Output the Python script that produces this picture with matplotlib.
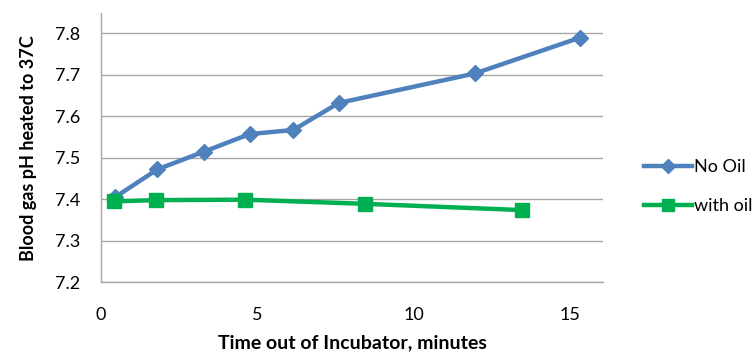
import matplotlib
matplotlib.use("Agg")
import matplotlib.pyplot as plt

plt.rcParams['font.family'] = ['Lato', 'DejaVu Sans']

# Blood gas pH over time out of the incubator
no_oil_time = [0.45, 1.8, 3.3, 4.75, 6.15, 7.6, 11.95, 15.3]
no_oil_ph = [7.405, 7.472, 7.515, 7.557, 7.567, 7.632, 7.703, 7.789]

with_oil_time = [0.42, 1.77, 4.6, 8.45, 13.45]
with_oil_ph = [7.395, 7.398, 7.399, 7.389, 7.374]

x_ticks = [0, 5, 10, 15]
y_ticks = [7.2, 7.3, 7.4, 7.5, 7.6, 7.7, 7.8]

fig = plt.figure(figsize=(7.55, 3.54), dpi=100)
ax = fig.add_axes([0.1338, 0.2025, 0.665, 0.76])

grid_color = '#a6a6a6'
ax.plot(no_oil_time, no_oil_ph, color='#4F81BD', lw=3.2, marker='D',
        markersize=8.5, label='No Oil', zorder=3)
ax.plot(with_oil_time, with_oil_ph, color='#00B050', lw=3.2, marker='s',
        markersize=10.5, label='with oil', zorder=3)

ax.set_xlim(0, 16.05)
ax.set_ylim(7.2, 7.848)
ax.set_xticks(x_ticks)
ax.set_yticks(y_ticks)
ax.set_yticklabels([f'{v:.1f}' for v in y_ticks])
ax.yaxis.grid(True, color=grid_color, lw=1.0)
ax.set_axisbelow(True)

for side in ('top', 'right'):
    ax.spines[side].set_visible(False)
for side in ('left', 'bottom'):
    ax.spines[side].set_color(grid_color)
    ax.spines[side].set_linewidth(1.0)

ax.tick_params(axis='both', length=0, labelsize=13, colors='#000000')
ax.tick_params(axis='x', pad=18)
ax.tick_params(axis='y', pad=15)

ax.set_xlabel('Time out of Incubator, minutes', fontsize=14,
              fontweight='bold', labelpad=8)
ax.set_ylabel('Blood gas pH heated to 37C', fontsize=13,
              fontweight='bold', labelpad=13)

fig.legend(loc='upper left', bbox_to_anchor=(0.831, 0.597), frameon=False,
           fontsize=13, handlelength=2.65, labelspacing=1.3,
           handletextpad=0.15, markerscale=0.8)

fig.savefig('out.png', dpi=100)
